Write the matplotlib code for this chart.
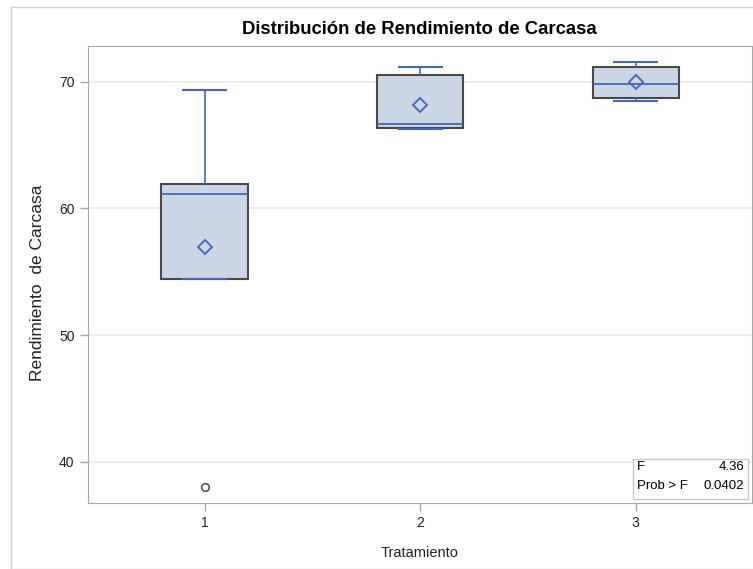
import matplotlib
matplotlib.use("Agg")
import matplotlib.pyplot as plt
from matplotlib.patches import Rectangle

plt.rcParams['font.family'] = ['Liberation Sans', 'DejaVu Sans']

# datos
tratamientos = ['1', '2', '3']
q1 = [54.4, 66.35, 68.7]
mediana = [61.15, 66.7, 69.8]
q3 = [61.9, 70.55, 71.2]
bigote_inf = [54.4, 66.25, 68.5]
bigote_sup = [69.35, 71.2, 71.6]
media = [56.95, 68.2, 69.95]
atipicos = [[38.0], [], []]
f_valor = "4.36"
p_valor = "0.0402"

BLUE = '#4466B8'
FILL = '#CAD5E6'

stats = []
for i in range(len(tratamientos)):
    stats.append({
        'label': tratamientos[i],
        'q1': q1[i], 'med': mediana[i], 'q3': q3[i],
        'whislo': bigote_inf[i], 'whishi': bigote_sup[i],
        'mean': media[i], 'fliers': atipicos[i],
    })

fig = plt.figure(figsize=(7.53, 5.69), dpi=100)
ax = fig.add_axes([87.7 / 753, 1 - 502.7 / 569, (751.5 - 87.7) / 753, (502.7 - 46) / 569])

# marco exterior
fig.patches.append(Rectangle((10.5 / 753, 0), 1.0, 1 - 6.5 / 569, transform=fig.transFigure,
                             fill=False, edgecolor='#D3D3D3', linewidth=1.0))

ax.bxp(stats, positions=[1, 2, 3], widths=0.4, capwidths=0.2, showmeans=True,
       patch_artist=True,
       boxprops=dict(facecolor=FILL, edgecolor='#4a4a4a', linewidth=1.5),
       medianprops=dict(color=BLUE, linewidth=1.3),
       whiskerprops=dict(color=BLUE, linewidth=1.2),
       capprops=dict(color=BLUE, linewidth=1.5),
       meanprops=dict(marker='D', markerfacecolor='none', markeredgecolor=BLUE,
                      markersize=7.5, markeredgewidth=1.3),
       flierprops=dict(marker='o', markerfacecolor='none', markeredgecolor='#555555',
                       markersize=5.5, markeredgewidth=1.2),
       zorder=3)

ax.set_xlim(0.458, 3.537)
ax.set_ylim(36.77, 72.83)
ax.set_yticks([40, 50, 60, 70])
ax.set_xticks([1, 2, 3])
ax.set_xticklabels(tratamientos)
ax.grid(axis='y', color='#EBEBEB', linewidth=1.2, zorder=0)
ax.set_axisbelow(True)
for s in ax.spines.values():
    s.set_color('#A8A8A8')
ax.tick_params(axis='both', colors='#A8A8A8', labelcolor='#222222', length=6,
               width=1, labelsize=10)

ax.set_xlabel('Tratamiento', fontsize=10.5, color='#222222')
ax.xaxis.set_label_coords(0.5, -0.095)
ax.set_ylabel('Rendimiento  de Carcasa', fontsize=12.5, color='#222222')
ax.yaxis.set_label_coords(-0.064, 0.481)
fig.text(419.6 / 753, 1 - 30 / 569, 'Distribución de Rendimiento de Carcasa',
         ha='center', va='center', fontsize=13.3, fontweight='bold')

# recuadro de estadisticos
to_ax = ax.transAxes.inverted()
x0, y0 = to_ax.transform((632.7, 569 - 499))
x1, y1 = to_ax.transform((747.7, 569 - 459.3))
ax.add_patch(Rectangle((x0, y0), x1 - x0, y1 - y0, transform=ax.transAxes,
                       facecolor='white', edgecolor='#C8C8C8', linewidth=1, zorder=5))
xl, _ = to_ax.transform((637, 0))
xr, _ = to_ax.transform((744, 0))
_, ya = to_ax.transform((0, 569 - 466.7))
_, yb = to_ax.transform((0, 569 - 486))
ax.text(xl, ya, 'F', transform=ax.transAxes, ha='left', va='center', fontsize=9.5, zorder=6)
ax.text(xr, ya, f_valor, transform=ax.transAxes, ha='right', va='center', fontsize=9.5, zorder=6)
ax.text(xl, yb, 'Prob > F', transform=ax.transAxes, ha='left', va='center', fontsize=9.5, zorder=6)
ax.text(xr, yb, p_valor, transform=ax.transAxes, ha='right', va='center', fontsize=9.5, zorder=6)

fig.savefig('out.png', dpi=100)
